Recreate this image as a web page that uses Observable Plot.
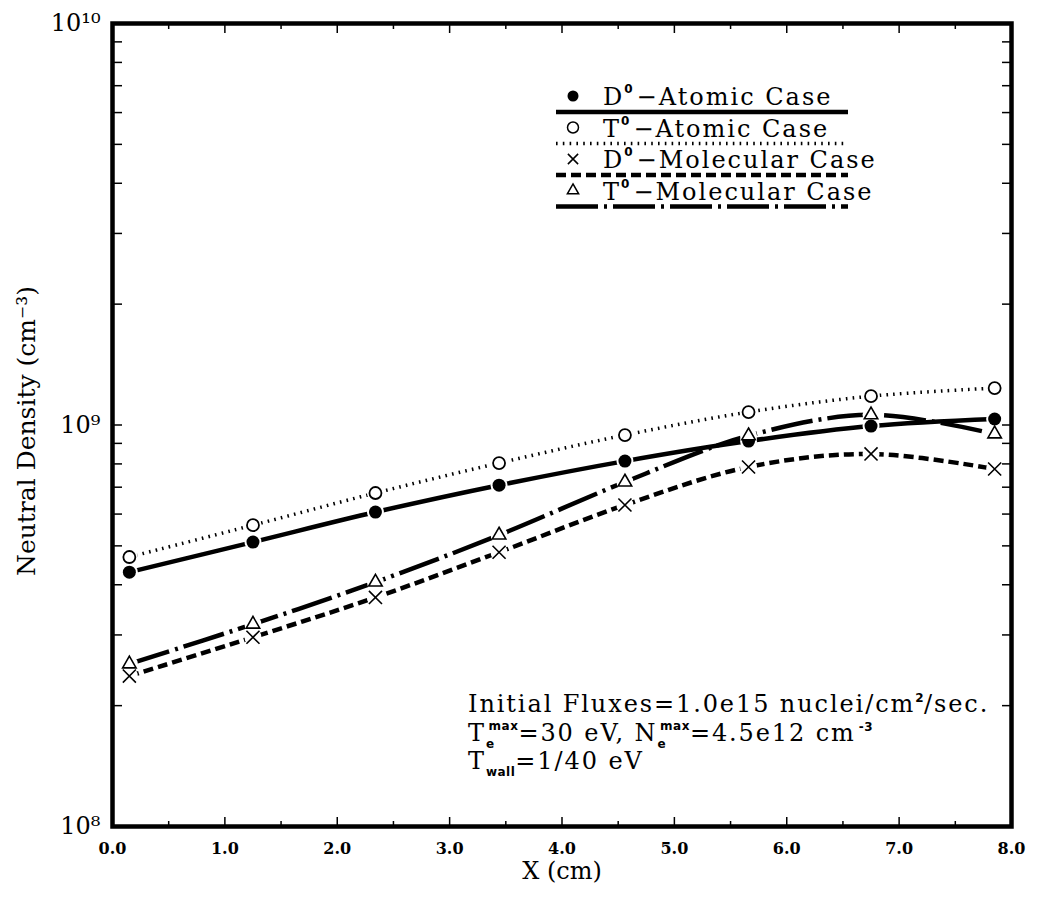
<!DOCTYPE html>
<html><head><meta charset="utf-8">
<script src="https://cdn.jsdelivr.net/npm/d3@7"></script>
<script src="https://cdn.jsdelivr.net/npm/@observablehq/plot@0.6"></script>
<style>
body{margin:0;background:#fff;}
#chart{width:1037px;height:901px;}
</style></head><body><div id="chart"></div>
<script>
// ---- data ----
const xPos        = [0.15, 1.25, 2.34, 3.44, 4.56, 5.66, 6.75, 7.85];
const d0Atomic    = [4.30e8, 5.11e8, 6.07e8, 7.08e8, 8.13e8, 9.12e8, 9.94e8, 1.035e9];
const t0Atomic    = [4.69e8, 5.63e8, 6.77e8, 8.04e8, 9.44e8, 1.077e9, 1.18e9, 1.236e9];
const d0Molecular = [2.37e8, 2.96e8, 3.72e8, 4.82e8, 6.32e8, 7.86e8, 8.47e8, 7.77e8];
const t0Molecular = [2.54e8, 3.19e8, 4.06e8, 5.32e8, 7.21e8, 9.40e8, 1.06e9, 9.50e8];
const seriesLabels = ["D|0|−Atomic Case", "T|0|−Atomic Case", "D|0|−Molecular Case", "T|0|−Molecular Case"];
const xMajorTicks = [0, 1, 2, 3, 4, 5, 6, 7, 8];
const xMinorTicks = [0.5, 1.5, 2.5, 3.5, 4.5, 5.5, 6.5, 7.5];
const yMajorTicks = [1e8, 1e9, 1e10];
const yMinorTicks = [2e8,3e8,4e8,5e8,6e8,7e8,8e8,9e8,2e9,3e9,4e9,5e9,6e9,7e9,8e9,9e9];
const yTickLabels = ["10⁸", "10⁹", "10¹⁰"];
const xLabel = "X (cm)";
const yLabel = "Neutral Density (cm⁻³)";

// ---- styles ----
const SERIF = "DejaVu Serif";
const styles = [
  {dash: null,          width: 4.5, symbol: "circle",   fill: "black", stroke: "none",  r: 6.5, sw: 0},
  {dash: "1.6,5.2",     width: 3.5, symbol: "circle",   fill: "white", stroke: "black", r: 6,   sw: 1.8},
  {dash: "10,5",        width: 4.5, symbol: "times",    fill: "none",  stroke: "black", r: 6,   sw: 1.6},
  {dash: "42,6,3,6",    width: 4.5, symbol: "triangle", fill: "white", stroke: "black", r: 5,   sw: 1.6}
];
const allSeries = [d0Atomic, t0Atomic, d0Molecular, t0Molecular];
const tables = allSeries.map((vals, s) => xPos.map((x, i) => ({x, y: vals[i], s})));

const lineMarks = tables.map((t, s) => Plot.line(t, {x: "x", y: "y", curve: "catmull-rom",
  stroke: "black", strokeWidth: styles[s].width, strokeDasharray: styles[s].dash, strokeLinecap: "butt"}));
const haloMarks = tables.map((t, s) => Plot.dot(t, {x: "x", y: "y", r: 8.5, fill: "white", stroke: "none"}));
const dotMarks = tables.map((t, s) => Plot.dot(t, {x: "x", y: "y", r: styles[s].r, symbol: styles[s].symbol,
  fill: styles[s].fill, stroke: styles[s].stroke, strokeWidth: styles[s].sw}));

const noText = {tickFormat: () => "", label: null, strokeWidth: 1.5};
const plot = Plot.plot({
  width: 1037, height: 901,
  marginLeft: 112, marginRight: 26, marginTop: 23, marginBottom: 75,
  x: {domain: [0, 8]},
  y: {type: "log", domain: [1e8, 1e10]},
  style: {fontFamily: SERIF, background: "white", color: "black", overflow: "visible"},
  marks: [
    ...lineMarks, ...haloMarks, ...dotMarks,
    // x ticks (inward), bottom and top
    Plot.axisX(xMajorTicks, {anchor: "bottom", tickSize: -9, ...noText}),
    Plot.axisX(xMinorTicks, {anchor: "bottom", tickSize: -5, ...noText}),
    Plot.axisX(xMajorTicks, {anchor: "top", tickSize: -9, ...noText}),
    Plot.axisX(xMinorTicks, {anchor: "top", tickSize: -5, ...noText}),
    Plot.axisX(xMajorTicks, {anchor: "bottom", tickSize: 0, tickPadding: 16, label: null,
      tickFormat: d => d.toFixed(1), fontWeight: "bold", fontSize: 16}),
    // y ticks (inward), left and right
    Plot.axisY(yMajorTicks.concat(yMinorTicks), {anchor: "left", tickSize: -10, ...noText}),
    Plot.axisY(yMajorTicks.concat(yMinorTicks), {anchor: "right", tickSize: -10, ...noText}),
    Plot.axisY(yMajorTicks, {anchor: "left", tickSize: 0, tickPadding: 12, fontSize: 24, label: null,
      tickFormat: d => yTickLabels[yMajorTicks.indexOf(d)]}),
    Plot.frame({stroke: "black", strokeWidth: 4.5}),
    Plot.text([xLabel], {frameAnchor: "bottom", dy: 52, fontSize: 24}),
    Plot.text([yLabel], {frameAnchor: "left", textAnchor: "middle", rotate: -90, dx: -86, dy: 6, fontSize: 25})
  ]
});
document.getElementById("chart").appendChild(plot);
const svg = d3.select(plot);
svg.selectAll("text").style("font-family", SERIF);

// ---- legend (inside plot, top) ----
const lg = svg.append("g").style("font-family", SERIF).attr("font-size", 24).attr("text-anchor", "start");
const symPath = {circle: d3.symbolCircle, times: d3.symbolTimes, triangle: d3.symbolTriangle};
seriesLabels.forEach((lab, i) => {
  const st = styles[i];
  const base = 105 + i * 31.5;
  const r = st.symbol === "circle" ? 5.5 : 5;
  const area = st.symbol === "circle" ? Math.PI * r * r : (st.symbol === "triangle" ? 55 : 70);
  lg.append("path")
    .attr("transform", `translate(573,${base - 9})`)
    .attr("d", d3.symbol(symPath[st.symbol], area)())
    .attr("fill", st.symbol === "times" ? "none" : (st.fill === "black" ? "black" : "white"))
    .attr("stroke", st.fill === "black" ? "none" : "black")
    .attr("stroke-width", 1.5);
  const [a, sup, b] = lab.split("|");
  const t = lg.append("text").attr("x", 603).attr("y", base).attr("letter-spacing", 2);
  t.append("tspan").text(a);
  t.append("tspan").attr("dy", -12).attr("font-size", 12).style("font-family", "DejaVu Sans").attr("font-weight", "bold").text(sup);
  t.append("tspan").attr("dy", 12).attr("dx", 2).text(b);
  lg.append("line").attr("x1", 556).attr("x2", 848).attr("y1", base + 7).attr("y2", base + 7)
    .attr("stroke", "black").attr("stroke-width", st.width).attr("stroke-dasharray", st.dash);
});

// ---- annotation ----
const an = svg.append("g").style("font-family", SERIF).attr("font-size", 24).attr("letter-spacing", 1.9).attr("text-anchor", "start");
const small = (sel, txt, dy, dx) => sel.append("tspan").style("font-family", "DejaVu Sans").attr("font-weight", "bold")
  .attr("font-size", 12).attr("letter-spacing", 0.5).attr("dy", dy).attr("dx", dx || 0).text(txt);
const l1 = an.append("text").attr("x", 468).attr("y", 712);
l1.append("tspan").text("Initial Fluxes=1.0e15 nuclei/cm");
small(l1, "2", -10);
l1.append("tspan").attr("dy", 10).text("/sec.");
const l2 = an.append("text").attr("x", 468).attr("y", 741);
l2.append("tspan").text("T");
small(l2, "e", 7);
small(l2, "max", -18, -6);
l2.append("tspan").attr("dy", 11).text("=30 eV, N");
small(l2, "e", 7);
small(l2, "max", -18, -6);
l2.append("tspan").attr("dy", 11).text("=4.5e12 cm");
small(l2, "-3", -10, 3);
const l3 = an.append("text").attr("x", 468).attr("y", 769);
l3.append("tspan").text("T");
small(l3, "wall", 7);
l3.append("tspan").attr("dy", -7).text("=1/40 eV");
</script></body></html>
